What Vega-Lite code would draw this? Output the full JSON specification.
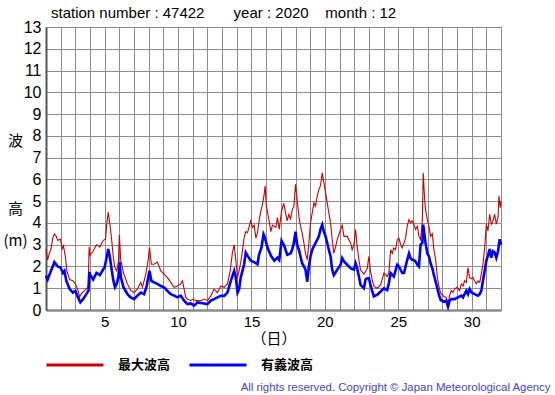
{
"$schema": "https://vega.github.io/schema/vega-lite/v6.json",
"width": 455, "height": 283,
"autosize": "none",
"padding": {"left": 46, "top": 27, "right": 54, "bottom": 85},
"background": "white",
"config": {
 "view": {"stroke": "black", "strokeWidth": 1},
 "font": "Liberation Sans",
 "axis": {"domainColor": "#555555", "domainWidth": 2,
  "labelColor": "black", "labelFont": "Liberation Sans", "labelFlush": false, "labelOverlap": false, "labelBound": false,
  "titleColor": "black", "titleFontWeight": "normal"}
},
"title": {"text": "station number : 47422\u00a0\u00a0\u00a0\u00a0\u00a0\u00a0 year : 2020\u00a0\u00a0\u00a0 month : 12", "anchor": "start", "frame": "group", "orient": "top", "fontSize": 15, "fontWeight": "normal", "font": "Liberation Sans", "color": "black", "offset": -2, "dx": 5},
"datasets": {
"max": [{"d":1.00,"h":2.8},{"d":1.11,"h":2.3},{"d":1.23,"h":2.6},{"d":1.34,"h":2.8},{"d":1.46,"h":3.3},{"d":1.57,"h":3.5},{"d":1.69,"h":3.4},{"d":1.80,"h":3.2},{"d":1.99,"h":3.25},{"d":2.10,"h":2.8},{"d":2.19,"h":2.95},{"d":2.33,"h":2.4},{"d":2.42,"h":1.8},{"d":2.61,"h":1.4},{"d":2.83,"h":1.35},{"d":3.00,"h":1.2},{"d":3.18,"h":0.9},{"d":3.29,"h":0.6},{"d":3.41,"h":0.75},{"d":3.64,"h":0.9},{"d":3.80,"h":1.0},{"d":3.87,"h":1.1},{"d":3.94,"h":2.9},{"d":3.98,"h":2.5},{"d":4.21,"h":2.7},{"d":4.44,"h":3.0},{"d":4.67,"h":2.9},{"d":4.90,"h":3.2},{"d":5.06,"h":3.25},{"d":5.13,"h":3.9},{"d":5.24,"h":4.5},{"d":5.36,"h":3.9},{"d":5.47,"h":3.25},{"d":5.59,"h":2.4},{"d":5.70,"h":1.95},{"d":5.82,"h":1.8},{"d":5.93,"h":2.2},{"d":6.00,"h":3.45},{"d":6.09,"h":2.3},{"d":6.28,"h":1.7},{"d":6.55,"h":1.2},{"d":6.77,"h":0.9},{"d":7.00,"h":0.8},{"d":7.23,"h":0.96},{"d":7.45,"h":1.27},{"d":7.57,"h":1.05},{"d":7.80,"h":1.65},{"d":7.95,"h":2.26},{"d":8.05,"h":2.87},{"d":8.18,"h":2.1},{"d":8.36,"h":2.1},{"d":8.59,"h":2.2},{"d":8.82,"h":1.8},{"d":9.05,"h":1.65},{"d":9.27,"h":1.5},{"d":9.50,"h":1.27},{"d":9.73,"h":1.04},{"d":9.95,"h":1.1},{"d":10.18,"h":1.2},{"d":10.30,"h":1.34},{"d":10.41,"h":0.96},{"d":10.52,"h":0.58},{"d":10.64,"h":0.5},{"d":10.86,"h":0.43},{"d":11.02,"h":0.5},{"d":11.20,"h":0.43},{"d":11.55,"h":0.43},{"d":11.77,"h":0.5},{"d":12.00,"h":0.43},{"d":12.23,"h":0.65},{"d":12.45,"h":0.96},{"d":12.68,"h":0.8},{"d":12.91,"h":1.1},{"d":13.14,"h":1.04},{"d":13.36,"h":1.2},{"d":13.55,"h":1.8},{"d":13.70,"h":2.64},{"d":13.82,"h":3.0},{"d":13.93,"h":2.3},{"d":14.05,"h":1.5},{"d":14.16,"h":1.8},{"d":14.32,"h":2.4},{"d":14.50,"h":3.33},{"d":14.61,"h":3.6},{"d":14.73,"h":3.55},{"d":14.95,"h":4.1},{"d":15.07,"h":3.8},{"d":15.18,"h":3.9},{"d":15.30,"h":3.3},{"d":15.41,"h":3.55},{"d":15.52,"h":4.1},{"d":15.64,"h":4.55},{"d":15.75,"h":4.85},{"d":15.86,"h":5.3},{"d":15.93,"h":5.7},{"d":16.00,"h":4.85},{"d":16.20,"h":4.1},{"d":16.32,"h":3.6},{"d":16.43,"h":3.9},{"d":16.66,"h":3.8},{"d":16.77,"h":4.25},{"d":16.89,"h":3.7},{"d":17.05,"h":4.55},{"d":17.20,"h":4.9},{"d":17.32,"h":4.46},{"d":17.43,"h":4.1},{"d":17.55,"h":4.4},{"d":17.66,"h":4.15},{"d":17.77,"h":4.6},{"d":17.89,"h":4.77},{"d":18.00,"h":5.77},{"d":18.11,"h":5.08},{"d":18.23,"h":4.3},{"d":18.34,"h":3.85},{"d":18.45,"h":3.54},{"d":18.57,"h":3.08},{"d":18.68,"h":2.6},{"d":18.80,"h":2.3},{"d":18.91,"h":3.08},{"d":19.02,"h":4.0},{"d":19.14,"h":4.46},{"d":19.25,"h":4.92},{"d":19.36,"h":4.77},{"d":19.48,"h":5.23},{"d":19.59,"h":5.54},{"d":19.70,"h":5.7},{"d":19.82,"h":6.3},{"d":19.93,"h":5.85},{"d":20.05,"h":5.4},{"d":20.16,"h":4.92},{"d":20.27,"h":4.46},{"d":20.39,"h":4.0},{"d":20.50,"h":3.23},{"d":20.61,"h":2.6},{"d":20.73,"h":2.9},{"d":20.84,"h":3.23},{"d":21.07,"h":3.7},{"d":21.18,"h":3.9},{"d":21.30,"h":3.38},{"d":21.52,"h":3.38},{"d":21.75,"h":3.08},{"d":21.86,"h":2.77},{"d":21.98,"h":3.0},{"d":22.09,"h":3.7},{"d":22.20,"h":2.92},{"d":22.32,"h":2.3},{"d":22.43,"h":1.85},{"d":22.66,"h":1.65},{"d":22.77,"h":1.77},{"d":22.89,"h":1.92},{"d":23.00,"h":2.46},{"d":23.11,"h":1.77},{"d":23.23,"h":1.38},{"d":23.34,"h":1.08},{"d":23.57,"h":1.0},{"d":23.80,"h":1.15},{"d":24.02,"h":1.7},{"d":24.25,"h":1.54},{"d":24.36,"h":1.7},{"d":24.48,"h":2.77},{"d":24.59,"h":2.6},{"d":24.70,"h":2.85},{"d":24.82,"h":2.77},{"d":24.93,"h":3.23},{"d":25.05,"h":3.3},{"d":25.16,"h":3.0},{"d":25.27,"h":2.85},{"d":25.39,"h":3.08},{"d":25.50,"h":3.3},{"d":25.61,"h":3.85},{"d":25.73,"h":4.15},{"d":25.84,"h":4.0},{"d":25.95,"h":4.1},{"d":26.07,"h":3.92},{"d":26.18,"h":3.7},{"d":26.30,"h":3.85},{"d":26.41,"h":3.38},{"d":26.52,"h":3.23},{"d":26.64,"h":4.1},{"d":26.70,"h":6.3},{"d":26.80,"h":5.08},{"d":26.86,"h":4.6},{"d":26.98,"h":4.15},{"d":27.09,"h":3.85},{"d":27.20,"h":3.38},{"d":27.32,"h":3.5},{"d":27.43,"h":2.77},{"d":27.55,"h":2.3},{"d":27.66,"h":1.54},{"d":27.77,"h":1.08},{"d":27.89,"h":0.77},{"d":28.11,"h":0.62},{"d":28.27,"h":0.58},{"d":28.39,"h":0.27},{"d":28.50,"h":0.66},{"d":28.61,"h":0.89},{"d":28.73,"h":0.81},{"d":28.84,"h":0.96},{"d":29.00,"h":1.04},{"d":29.18,"h":0.89},{"d":29.30,"h":1.2},{"d":29.41,"h":1.1},{"d":29.52,"h":1.34},{"d":29.64,"h":1.27},{"d":29.75,"h":1.95},{"d":29.86,"h":1.5},{"d":29.98,"h":1.43},{"d":30.09,"h":1.5},{"d":30.20,"h":1.34},{"d":30.32,"h":1.2},{"d":30.43,"h":1.34},{"d":30.55,"h":1.27},{"d":30.66,"h":1.65},{"d":30.77,"h":2.1},{"d":30.89,"h":2.87},{"d":31.00,"h":3.94},{"d":31.11,"h":3.63},{"d":31.23,"h":4.4},{"d":31.34,"h":3.94},{"d":31.45,"h":4.1},{"d":31.57,"h":4.4},{"d":31.68,"h":3.94},{"d":31.80,"h":4.25},{"d":31.86,"h":5.24},{"d":31.95,"h":4.7},{"d":32.00,"h":5.0}],
"sig": [{"d":1.00,"h":1.57},{"d":1.11,"h":1.4},{"d":1.34,"h":1.8},{"d":1.46,"h":2.0},{"d":1.57,"h":2.2},{"d":1.80,"h":2.0},{"d":1.99,"h":1.95},{"d":2.15,"h":1.7},{"d":2.26,"h":1.8},{"d":2.38,"h":1.35},{"d":2.61,"h":0.96},{"d":2.83,"h":0.8},{"d":3.00,"h":0.88},{"d":3.18,"h":0.58},{"d":3.34,"h":0.35},{"d":3.52,"h":0.5},{"d":3.75,"h":0.73},{"d":3.90,"h":0.9},{"d":3.96,"h":1.75},{"d":3.98,"h":1.65},{"d":4.21,"h":1.4},{"d":4.44,"h":1.7},{"d":4.67,"h":1.6},{"d":4.90,"h":1.87},{"d":4.99,"h":1.95},{"d":5.13,"h":2.4},{"d":5.24,"h":2.8},{"d":5.36,"h":2.4},{"d":5.47,"h":1.87},{"d":5.59,"h":1.35},{"d":5.70,"h":1.04},{"d":5.82,"h":1.2},{"d":5.93,"h":1.5},{"d":6.02,"h":2.2},{"d":6.10,"h":1.5},{"d":6.28,"h":1.05},{"d":6.55,"h":0.73},{"d":6.77,"h":0.58},{"d":7.00,"h":0.5},{"d":7.23,"h":0.66},{"d":7.45,"h":0.8},{"d":7.68,"h":0.73},{"d":7.86,"h":1.1},{"d":8.05,"h":1.8},{"d":8.18,"h":1.34},{"d":8.36,"h":1.27},{"d":8.59,"h":1.2},{"d":8.82,"h":1.1},{"d":9.05,"h":1.04},{"d":9.27,"h":0.88},{"d":9.50,"h":0.73},{"d":9.73,"h":0.66},{"d":9.95,"h":0.58},{"d":10.18,"h":0.66},{"d":10.41,"h":0.43},{"d":10.64,"h":0.27},{"d":10.86,"h":0.3},{"d":11.09,"h":0.2},{"d":11.32,"h":0.35},{"d":11.77,"h":0.3},{"d":12.00,"h":0.27},{"d":12.23,"h":0.43},{"d":12.45,"h":0.5},{"d":12.68,"h":0.58},{"d":12.91,"h":0.65},{"d":13.14,"h":0.65},{"d":13.36,"h":0.8},{"d":13.59,"h":1.34},{"d":13.82,"h":1.8},{"d":13.93,"h":1.5},{"d":14.05,"h":0.8},{"d":14.16,"h":0.96},{"d":14.27,"h":1.5},{"d":14.50,"h":2.1},{"d":14.61,"h":2.64},{"d":14.73,"h":2.5},{"d":14.95,"h":2.26},{"d":15.18,"h":2.2},{"d":15.41,"h":2.1},{"d":15.52,"h":2.56},{"d":15.68,"h":2.87},{"d":15.82,"h":3.48},{"d":15.91,"h":3.33},{"d":16.09,"h":2.87},{"d":16.32,"h":2.5},{"d":16.55,"h":2.26},{"d":16.77,"h":2.4},{"d":16.89,"h":2.3},{"d":17.05,"h":3.18},{"d":17.23,"h":2.95},{"d":17.32,"h":2.77},{"d":17.43,"h":2.54},{"d":17.66,"h":2.6},{"d":17.77,"h":2.77},{"d":17.89,"h":3.08},{"d":18.00,"h":3.6},{"d":18.11,"h":3.0},{"d":18.23,"h":2.77},{"d":18.34,"h":2.46},{"d":18.45,"h":2.15},{"d":18.57,"h":2.0},{"d":18.68,"h":1.85},{"d":18.80,"h":1.3},{"d":18.91,"h":2.0},{"d":19.02,"h":2.46},{"d":19.14,"h":2.77},{"d":19.25,"h":2.92},{"d":19.48,"h":3.23},{"d":19.59,"h":3.38},{"d":19.70,"h":3.7},{"d":19.82,"h":3.92},{"d":19.93,"h":3.6},{"d":20.05,"h":3.38},{"d":20.16,"h":3.08},{"d":20.27,"h":2.77},{"d":20.39,"h":2.46},{"d":20.50,"h":1.85},{"d":20.61,"h":1.6},{"d":20.84,"h":1.85},{"d":21.07,"h":2.08},{"d":21.18,"h":2.38},{"d":21.30,"h":2.23},{"d":21.52,"h":2.08},{"d":21.75,"h":1.92},{"d":21.98,"h":1.85},{"d":22.09,"h":2.15},{"d":22.20,"h":1.92},{"d":22.32,"h":1.54},{"d":22.43,"h":1.15},{"d":22.66,"h":1.0},{"d":22.77,"h":1.4},{"d":22.89,"h":1.46},{"d":23.00,"h":1.46},{"d":23.11,"h":1.15},{"d":23.23,"h":0.85},{"d":23.34,"h":0.62},{"d":23.57,"h":0.7},{"d":23.80,"h":0.85},{"d":24.02,"h":1.0},{"d":24.25,"h":0.92},{"d":24.36,"h":1.23},{"d":24.48,"h":1.7},{"d":24.70,"h":1.54},{"d":24.93,"h":2.08},{"d":25.05,"h":2.0},{"d":25.16,"h":1.85},{"d":25.27,"h":1.7},{"d":25.39,"h":1.7},{"d":25.61,"h":2.3},{"d":25.73,"h":2.6},{"d":25.84,"h":2.38},{"d":25.95,"h":2.3},{"d":26.07,"h":2.3},{"d":26.18,"h":2.23},{"d":26.30,"h":2.08},{"d":26.41,"h":2.0},{"d":26.52,"h":3.0},{"d":26.64,"h":3.08},{"d":26.70,"h":3.92},{"d":26.80,"h":3.38},{"d":26.86,"h":3.08},{"d":26.98,"h":2.6},{"d":27.09,"h":2.46},{"d":27.20,"h":2.15},{"d":27.32,"h":1.92},{"d":27.43,"h":1.6},{"d":27.55,"h":1.3},{"d":27.66,"h":1.0},{"d":27.77,"h":0.7},{"d":27.89,"h":0.46},{"d":28.11,"h":0.38},{"d":28.27,"h":0.43},{"d":28.39,"h":0.15},{"d":28.50,"h":0.43},{"d":28.61,"h":0.5},{"d":28.84,"h":0.5},{"d":29.07,"h":0.58},{"d":29.30,"h":0.66},{"d":29.41,"h":0.58},{"d":29.52,"h":0.73},{"d":29.64,"h":0.89},{"d":29.75,"h":0.73},{"d":29.86,"h":0.96},{"d":29.98,"h":0.81},{"d":30.20,"h":0.73},{"d":30.43,"h":0.66},{"d":30.55,"h":0.73},{"d":30.66,"h":0.89},{"d":30.77,"h":1.34},{"d":30.89,"h":1.8},{"d":31.00,"h":2.26},{"d":31.11,"h":2.5},{"d":31.23,"h":2.8},{"d":31.34,"h":2.4},{"d":31.45,"h":2.7},{"d":31.57,"h":2.64},{"d":31.68,"h":2.4},{"d":31.80,"h":2.7},{"d":31.91,"h":3.25},{"d":32.00,"h":3.0}],
"c": [{"v": 0}],
"g": [{"d": 1, "h": 0}]
},
"layer": [
{
"data": {"name": "g"},
"mark": {"type": "point", "opacity": 0},
"encoding": {
"x": {"field": "d", "type": "quantitative",
 "axis": {"orient": "bottom", "values": [1,2,3,4,5,6,7,8,9,10,11,12,13,14,15,16,17,18,19,20,21,22,23,24,25,26,27,28,29,30,31,32],
  "labels": true, "labelOpacity": 0, "labelPadding": 4, "labelFontSize": 15, "domain": false, "title": null, "grid": false,
  "ticks": true, "tickSize": -283, "tickColor": "#8c8c8c", "tickWidth": 1, "tickOpacity": 1}},
"y": {"field": "h", "type": "quantitative",
 "axis": {"orient": "left", "values": [0,1,2,3,4,5,6,7,8,9,10,11,12,13],
  "labels": true, "labelOpacity": 0, "labelPadding": 5, "labelFontSize": 16, "domain": false, "title": null, "grid": false,
  "ticks": true, "tickSize": -455, "tickColor": "#8c8c8c", "tickWidth": 1, "tickOpacity": 1}}
}
},
{
"data": {"name": "max"},
"mark": {"type": "line", "strokeWidth": 1.1},
"encoding": {
"x": {"field": "d", "type": "quantitative", "scale": {"domain": [1, 32], "nice": false, "zero": false},
 "axis": {"orient": "bottom", "values": [1,2,3,4,5,6,7,8,9,10,11,12,13,14,15,16,17,18,19,20,21,22,23,24,25,26,27,28,29,30,31,32],
  "labelExpr": "datum.value % 5 == 0 ? datum.label : ''", "grid": false, "ticks": false,
  "labelOverlap": false, "labelFontSize": 15, "labelPadding": 4,
  "title": "（日）", "titleFont": "Noto Sans CJK JP", "titleFontSize": 15, "titleY": 28, "titleBaseline": "middle"}},
"y": {"field": "h", "type": "quantitative", "scale": {"domain": [0, 13], "nice": false},
 "axis": {"orient": "left", "values": [0,1,2,3,4,5,6,7,8,9,10,11,12,13], "grid": false, "ticks": false,
  "labelFontSize": 16, "labelPadding": 5,
  "title": "波", "titleAngle": 0, "titleX": -31, "titleY": 113, "titleAlign": "center", "titleBaseline": "middle",
  "titleFont": "Noto Sans CJK JP", "titleFontSize": 15}},
"color": {"datum": "最大波高", "type": "nominal", "scale": {"domain": ["最大波高", "有義波高"], "range": ["#cc0000", "#0000ff"]},
 "legend": {"orient": "none", "legendX": -1, "legendY": 308, "direction": "horizontal", "title": null, "symbolType": "stroke",
  "symbolSize": 3249, "symbolStrokeWidth": 3, "labelFont": "Noto Sans CJK JP", "labelFontSize": 13, "labelFontWeight": "bold", "labelColor": "black",
  "labelOffset": 13, "columnPadding": 12, "padding": 0}}
}
},
{
"data": {"name": "sig"},
"mark": {"type": "line", "strokeWidth": 2.6},
"encoding": {
"x": {"field": "d", "type": "quantitative", "axis": null},
"y": {"field": "h", "type": "quantitative", "axis": null},
"color": {"datum": "有義波高", "type": "nominal"}
}
},
{
"data": {"name": "c"},
"mark": {"type": "rule", "strokeOpacity": 0},
"encoding": {
"y": {"field": "v", "type": "quantitative",
 "axis": {"orient": "right", "labels": false, "ticks": false, "domain": false, "grid": false,
  "title": "All rights reserved. Copyright © Japan Meteorological Agency", "titleAngle": 0, "titleX": 49, "titleY": 360,
  "titleAlign": "right", "titleBaseline": "middle", "titleColor": "#4444dd", "titleFont": "Liberation Sans", "titleFontSize": 11.4}}
}
},
{
"data": {"name": "c"},
"mark": {"type": "rule", "strokeOpacity": 0},
"encoding": {
"y": {"field": "v", "type": "quantitative",
 "axis": {"orient": "left", "labels": false, "ticks": false, "domain": false, "grid": false,
  "title": ["高", "(m)"], "titleAngle": 0, "titleX": -31, "titleY": 181, "titleAlign": "center", "titleBaseline": "middle",
  "titleFont": "Noto Sans CJK JP", "titleFontSize": 15, "titleLineHeight": 32}}
}
}
],
"resolve": {"axis": {"x": "independent", "y": "independent"}}
}
